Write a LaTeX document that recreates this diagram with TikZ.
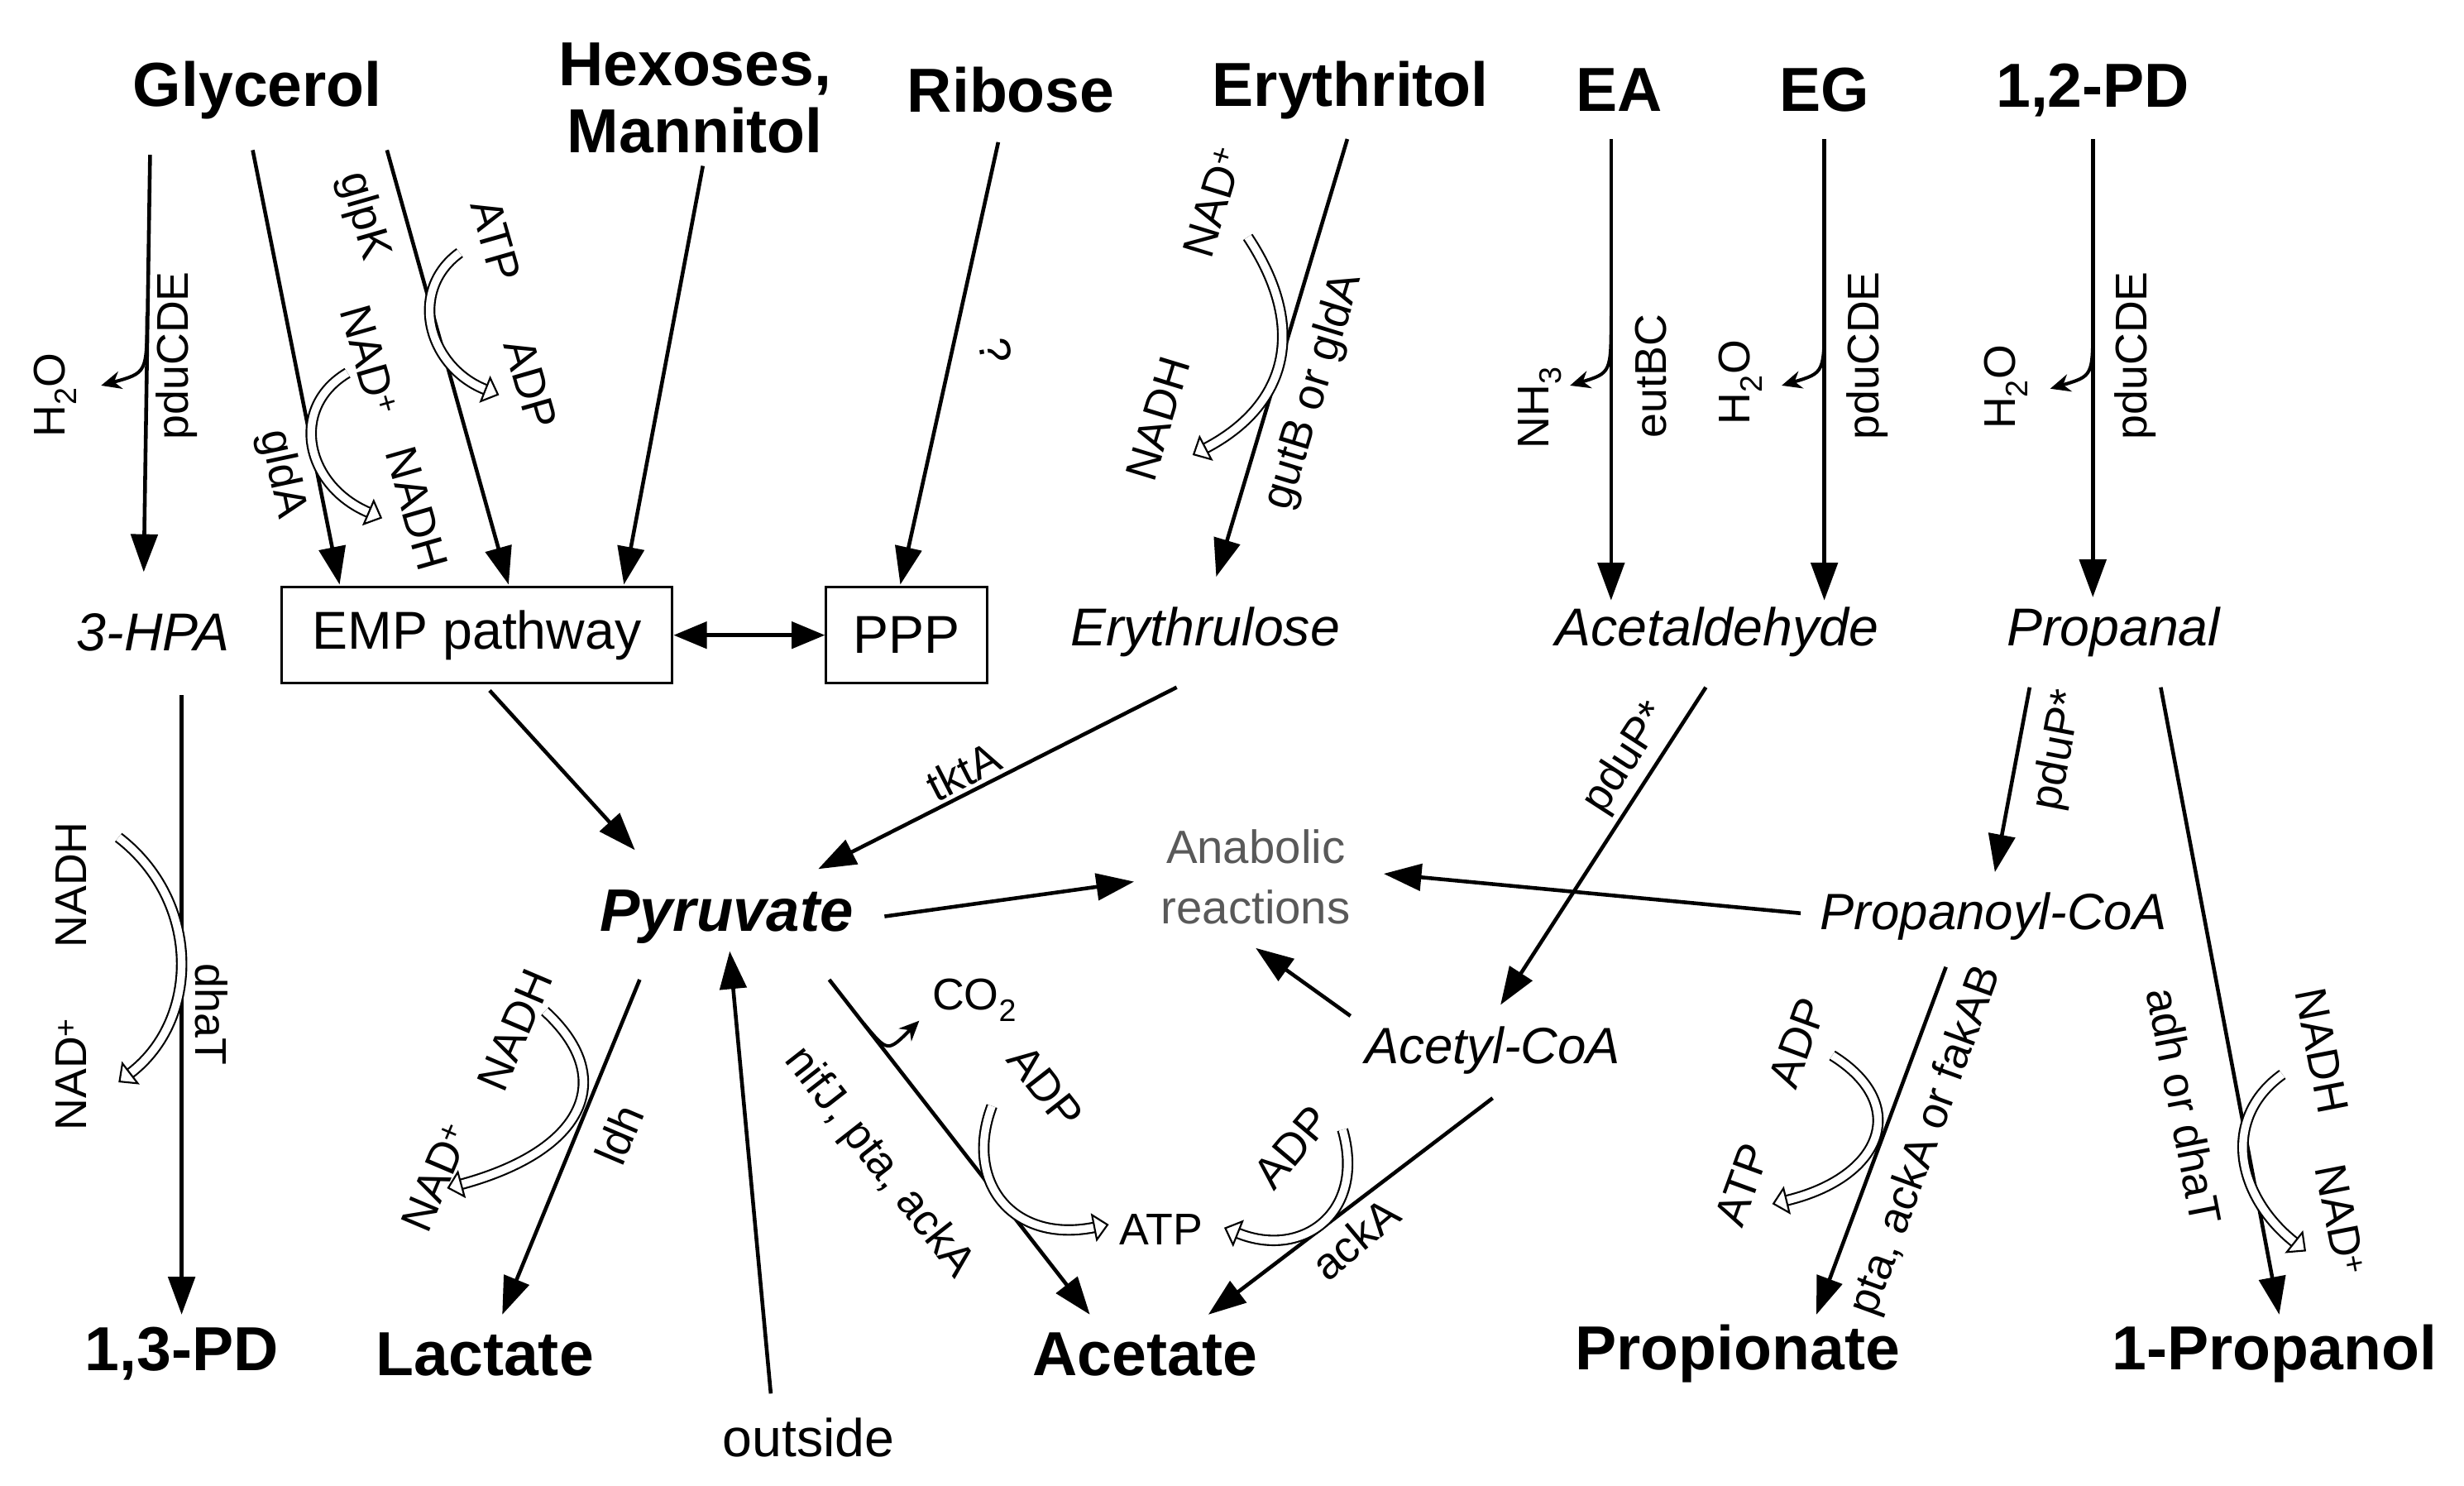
\documentclass[tikz,border=0pt]{standalone}
\usepackage{fontspec}
\setmainfont{Liberation Sans}
\usetikzlibrary{arrows.meta}
\begin{document}
\begin{tikzpicture}[x=0.5mm,y=-0.5mm,
  big/.style={font=\fontsize{56}{60}\selectfont\bfseries},
  mid/.style={font=\fontsize{48}{52}\selectfont},
  mi/.style={font=\fontsize{48}{52}\selectfont\itshape},
  sm/.style={font=\fontsize{40}{42}\selectfont,inner sep=1pt},
  arr/.style={line width=3.4pt,-{Triangle[length=34pt,width=24pt]}},
  side/.style={line width=3pt,-{Stealth[length=18pt,width=16pt]}},
  hol/.style={draw=black,line width=1.6pt,double=white,double distance=7pt,
     -{Triangle[open,length=14pt,width=26pt,line width=1.6pt]}},
  box/.style={draw,line width=2.2pt,inner sep=0pt}]
\useasboundingbox (0,0) rectangle (1560,940);
% top
\node[big] (gly) at (163,57) {Glycerol};
\node[big,align=center] (hex) at (440,62) {Hexoses,\\Mannitol};
\node[big] (rib) at (640,57) {Ribose};
\node[big] (ery) at (855,57) {Erythritol};
\node[big] (ea) at (1025,57) {EA};
\node[big] (eg) at (1155,57) {EG};
\node[big] (pd12) at (1325,57) {1,2-PD};
% middle
\node[mi] (hpa) at (97,400) {3-HPA};
\node[box,mid,minimum width=352pt,minimum height=86pt] (emp) at (302,402) {EMP pathway};
\node[box,mid,minimum width=145pt,minimum height=86pt] (ppp) at (574,402) {PPP};
\node[mi] (eru) at (763,400) {Erythrulose};
\node[mi] (ald) at (1087,400) {Acetaldehyde};
\node[mi] (pal) at (1338,400) {Propanal};
\node[font=\fontsize{54}{58}\selectfont\bfseries\itshape] (pyr) at (460,580) {Pyruvate};
\node[font=\fontsize{42}{54}\selectfont,text=black!65,align=center] (ana) at (795,555) {Anabolic\\reactions};
\node[font=\fontsize{46}{48}\selectfont\itshape] (pco) at (1262,580) {Propanoyl-CoA};
\node[font=\fontsize{46}{48}\selectfont\itshape] (aco) at (945,665) {Acetyl-CoA};
% bottom
\node[big] (pd13) at (115,857) {1,3-PD};
\node[big] (lac) at (307,857) {Lactate};
\node[big] (ace) at (725,857) {Acetate};
\node[big] (prop) at (1100,857) {Propionate};
\node[big] (pol) at (1440,857) {1-Propanol};
\node[mid] (out) at (512,910) {outside};
% coordinates
\coordinate (a1) at (95,98); \coordinate (a1e) at (91,362);
\coordinate (a2) at (160,95); \coordinate (a2e) at (215,370);
\coordinate (a3) at (245,95); \coordinate (a3e) at (322,370);
\coordinate (a4) at (445,105); \coordinate (a4e) at (395,370);
\coordinate (a5) at (632,90); \coordinate (a5e) at (570,370);
\coordinate (a6) at (853,88); \coordinate (a6e) at (770,365);
\coordinate (a7) at (1020,88); \coordinate (a7e) at (1020,380);
\coordinate (a8) at (1155,88); \coordinate (a8e) at (1155,380);
\coordinate (a9) at (1325,88); \coordinate (a9e) at (1325,378);
\coordinate (b1) at (310,437); \coordinate (b1e) at (402,538);
\coordinate (b2) at (745,435); \coordinate (b2e) at (518,550);
\coordinate (b3) at (115,440); \coordinate (b3e) at (115,832);
\coordinate (b4) at (405,620); \coordinate (b4e) at (318,832);
\coordinate (b5) at (488,882); \coordinate (b5e) at (462,602);
\coordinate (b6) at (560,580); \coordinate (b6e) at (718,558);
\coordinate (b7) at (525,620); \coordinate (b7e) at (690,832);
\coordinate (b8) at (1080,435); \coordinate (b8e) at (950,636);
\coordinate (b9) at (855,643); \coordinate (b9e) at (795,600);
\coordinate (c1) at (945,695); \coordinate (c1e) at (765,832);
\coordinate (c2) at (1140,578); \coordinate (c2e) at (876,553);
\coordinate (c3) at (1285,435); \coordinate (c3e) at (1263,552);
\coordinate (c4) at (1232,612); \coordinate (c4e) at (1150,832);
\coordinate (c5) at (1368,435); \coordinate (c5e) at (1443,832);
% main arrows
\foreach \p in {a1,a2,a3,a4,a5,a6,a7,a8,a9,b1,b2,b3,b4,b5,b6,b7,b8,b9,c1,c2,c3,c4,c5}
  \draw[arr] (\p) -- (\p e);
\draw[line width=3.4pt,{Triangle[length=30pt,width=24pt]}-{Triangle[length=30pt,width=24pt]}] (emp.east) -- (ppp.west);
% side arrows
\draw[side] (93,200) .. controls (93,236) .. (64,244);
\draw[side] (1020,200) .. controls (1020,236) .. (994,244);
\draw[side] (1155,200) .. controls (1155,236) .. (1128,244);
\draw[side] (1325,205) .. controls (1325,238) .. (1298,246);
\draw[side] (547,648) .. controls (562,666) .. (582,646);
% hollow arrows
\draw[hol] (291,160) .. controls (258,184) and (271,232) .. (316,250);
\draw[hol] (220,236) .. controls (183,258) and (193,307) .. (242,328);
\draw[hol] (790,150) .. controls (829,209) and (814,257) .. (755,288);
\draw[hol] (75,530) .. controls (127,570) and (127,645) .. (75,685);
\draw[hol] (345,640) .. controls (391,682) and (371,728) .. (283,752);
\draw[hol] (628,700) .. controls (610,748) and (641,787) .. (702,775);
\draw[hol] (850,715) .. controls (865,767) and (825,797) .. (775,777);
\draw[hol] (1160,668) .. controls (1210,699) and (1192,745) .. (1122,762);
\draw[hol] (1445,680) .. controls (1406,708) and (1416,757) .. (1460,792);
% labels
\node[sm,rotate=90] (l1) at (112,225) {pduCDE};
\node[sm,rotate=90] (l2) at (35,250) {H\textsubscript{2}O};
\node[sm,rotate=-74] (l3) at (230,137) {glpK};
\node[sm,rotate=-74] (l4) at (314,152) {ATP};
\node[sm,rotate=-74] (l5) at (336,243) {ADP};
\node[sm,rotate=-74] (l6) at (234,228) {NAD\textsuperscript{+}};
\node[sm,rotate=-74] (l7) at (264,322) {NADH};
\node[sm,rotate=-78] (l8) at (178,300) {gldA};
\node[sm,rotate=-80] (l9) at (630,222) {?};
\node[sm,rotate=73] (l10) at (768,128) {NAD\textsuperscript{+}};
\node[sm,rotate=73] (l11) at (733,265) {NADH};
\node[sm,rotate=73] (l12) at (832,248) {gutB or gldA};
\node[sm,rotate=90] (l13) at (975,258) {NH\textsubscript{3}};
\node[sm,rotate=90] (l14) at (1045,238) {eutBC};
\node[sm,rotate=90] (l15) at (1102,242) {H\textsubscript{2}O};
\node[sm,rotate=90] (l16) at (1182,225) {pduCDE};
\node[sm,rotate=90] (l17) at (1270,245) {H\textsubscript{2}O};
\node[sm,rotate=90] (l18) at (1352,225) {pduCDE};
\node[sm,rotate=27] (l19) at (610,488) {tktA};
\node[sm,rotate=90] (l20) at (45,560) {NADH};
\node[sm,rotate=90] (l21) at (45,680) {NAD\textsuperscript{+}};
\node[sm,rotate=-90] (l22) at (134,642) {dhaT};
\node[sm,rotate=67] (l23) at (326,652) {NADH};
\node[sm,rotate=67] (l24) at (276,745) {NAD\textsuperscript{+}};
\node[sm,rotate=67] (l25) at (392,718) {ldh};
\node[sm,rotate=-52] (l26) at (556,736) {nifJ, pta, ackA};
\node[sm,rotate=-52] (l27) at (662,688) {ADP};
\node[sm] (l28) at (617,633) {CO\textsubscript{2}};
\node[sm] (l29) at (735,778) {ATP};
\node[sm,rotate=50] (l30) at (818,726) {ADP};
\node[sm,rotate=40] (l31) at (858,784) {ackA};
\node[sm,rotate=57] (l32) at (1030,480) {pduP*};
\node[sm,rotate=79] (l33) at (1304,475) {pduP*};
\node[sm,rotate=70] (l34) at (1138,660) {ADP};
\node[sm,rotate=70] (l35) at (1103,750) {ATP};
\node[sm,rotate=70] (l36) at (1220,722) {pta, ackA or fakAB};
\node[sm,rotate=-79] (l37) at (1383,700) {adh or dhaT};
\node[sm,rotate=-79] (l38) at (1470,665) {NADH};
\node[sm,rotate=-79] (l39) at (1482,772) {NAD\textsuperscript{+}};
\end{tikzpicture}
\end{document}
